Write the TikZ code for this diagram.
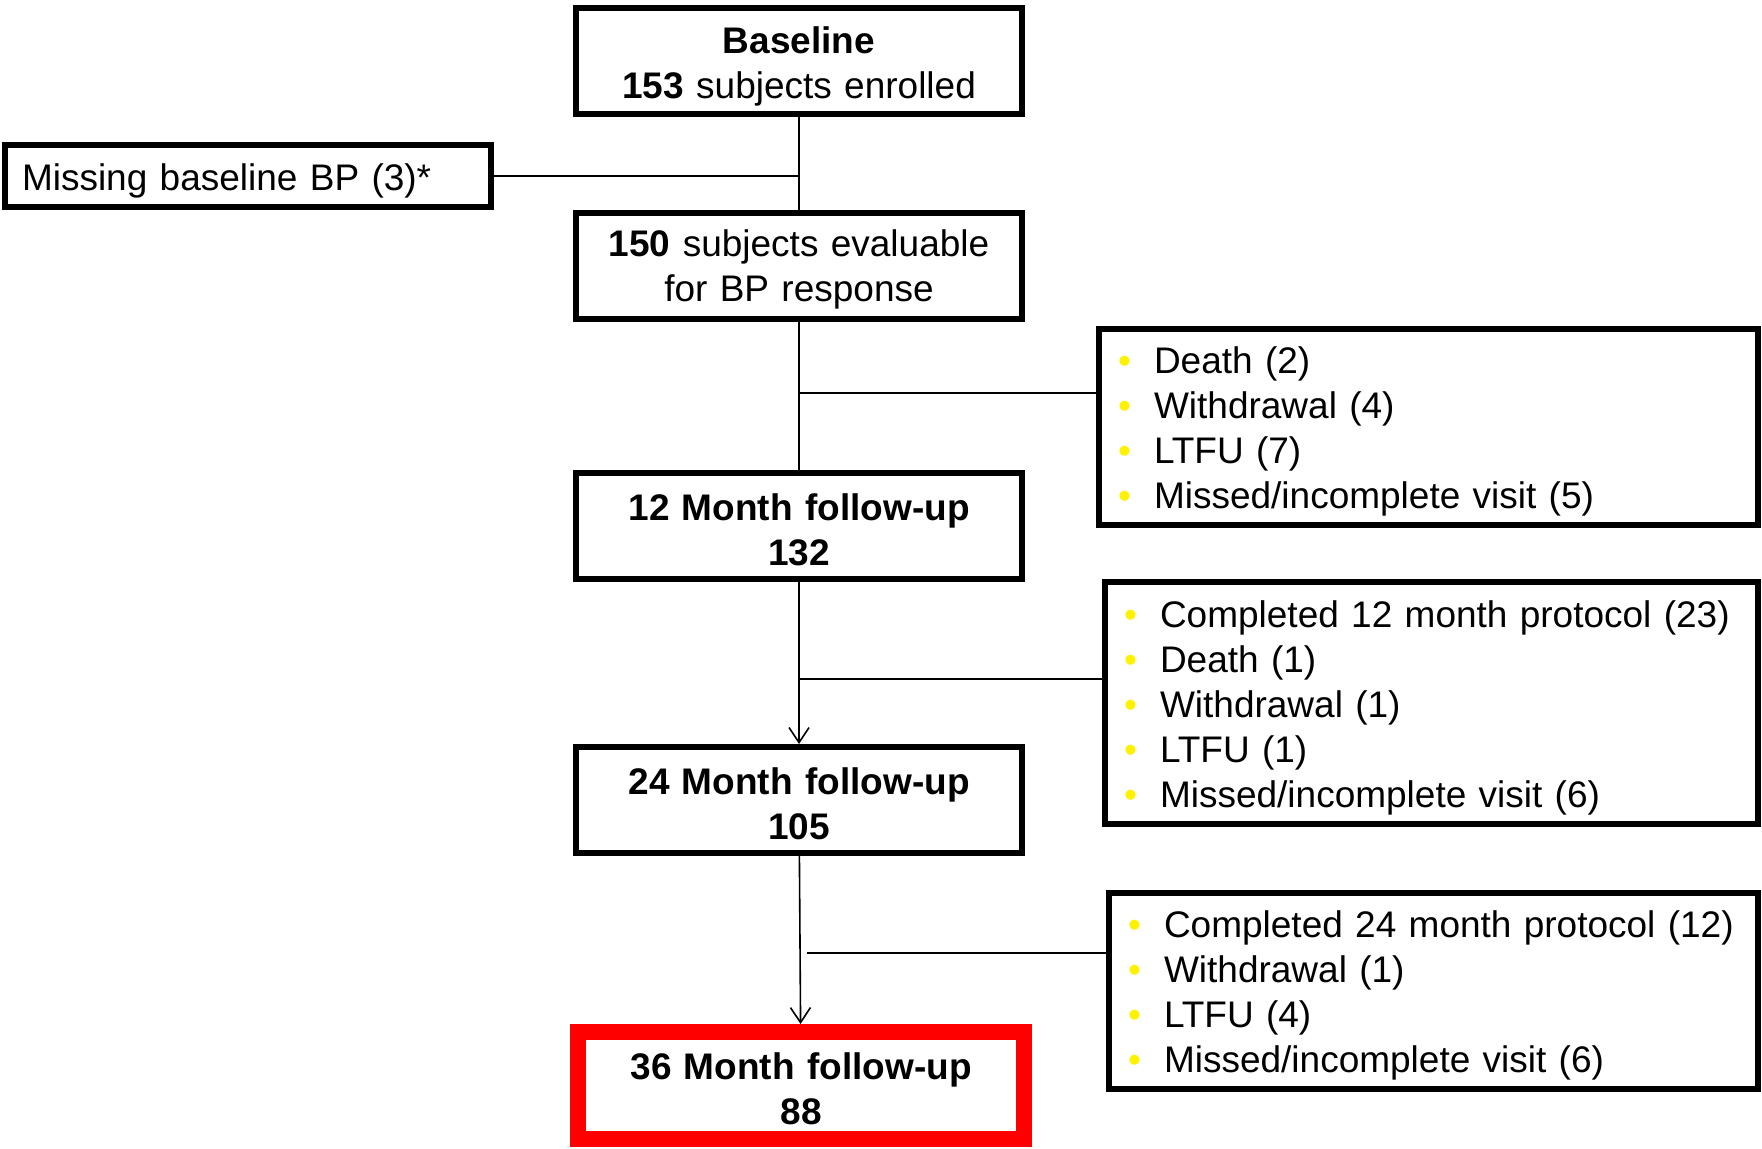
\documentclass[tikz,border=0pt]{standalone}
\usepackage{fontspec}
\setmainfont{Liberation Sans}
\usetikzlibrary{arrows.meta}

\newcommand{\dropitem}[1]{\makebox[18pt][l]{\textcolor{yellow}{\textbullet}}#1}

\begin{document}
\begin{tikzpicture}[x=0.5pt,y=-0.5pt]

	\tikzstyle{stage}=[draw,rectangle,line width=3pt,align=center,text width=223pt,inner sep=0pt,minimum height=53pt,font=\fontsize{18.5}{22.5}\selectfont,execute at begin node={\rule{0pt}{17pt}\ignorespaces}]
	\tikzstyle{drop}=[draw,rectangle,line width=3pt,align=left,inner xsep=9.5pt,inner ysep=0pt,anchor=west,font=\fontsize{18.5}{22.5}\selectfont,execute at begin node={\rule{0pt}{18pt}\ignorespaces}]
	\tikzstyle{link}=[line width=0.8pt]
	\tikzstyle{flow}=[line width=0.8pt,-{Straight Barb[length=7.5pt,width=10pt]}]

	\useasboundingbox[fill=white] (0,0) rectangle (1762,1149);

	% main column
	\node[stage,execute at begin node={\rule{0pt}{19pt}\ignorespaces}] (base) at (799,61) {\textbf{Baseline}\\ \textbf{153} subjects enrolled};
	\node[stage] (eval) at (799,266) {\textbf{150} subjects evaluable\\ for BP response};
	\node[stage] (m12) at (799,526) {\textbf{12 Month follow-up}\\ \textbf{132}};
	\node[stage] (m24) at (799,800) {\textbf{24 Month follow-up}\\ \textbf{105}};
	\node[stage,draw=red,line width=8pt,minimum height=53.5pt] (m36) at (801,1085.5) {\textbf{36 Month follow-up}\\ \textbf{88}};

	% drop-outs
	\node[drop,inner xsep=8.5pt,text width=226pt,minimum height=31pt] (miss) at (2,176) {Missing baseline BP (3)*};
	\node[drop,text width=310.5pt,minimum height=98pt] (out1) at (1096,427) {
		\dropitem{Death (2)}\\
		\dropitem{Withdrawal (4)}\\
		\dropitem{LTFU (7)}\\
		\dropitem{Missed/incomplete visit (5)}};
	\node[drop,text width=307.5pt,minimum height=121pt] (out2) at (1102,703) {
		\dropitem{Completed 12 month protocol (23)}\\
		\dropitem{Death (1)}\\
		\dropitem{Withdrawal (1)}\\
		\dropitem{LTFU (1)}\\
		\dropitem{Missed/incomplete visit (6)}};
	\node[drop,text width=305.5pt,minimum height=98pt] (out3) at (1106,991) {
		\dropitem{Completed 24 month protocol (12)}\\
		\dropitem{Withdrawal (1)}\\
		\dropitem{LTFU (4)}\\
		\dropitem{Missed/incomplete visit (6)}};

	\coordinate (j1) at (799,393);
	\coordinate (j2) at (799,679);
	\coordinate (j3) at (807,953);

	\draw[link] (base) -- (eval);
	\draw[link] (miss.east) -- (miss.east -| base.south);
	\draw[link] (eval) -- (m12);
	\draw[flow] (m12) -- (m24);
	\draw[flow] (m24) -- (m36);

	\draw[link] (j1) -- (j1 -| out1.west);
	\draw[link] (j2) -- (j2 -| out2.west);
	\draw[link] (j3) -- (j3 -| out3.west);

\end{tikzpicture}
\end{document}
